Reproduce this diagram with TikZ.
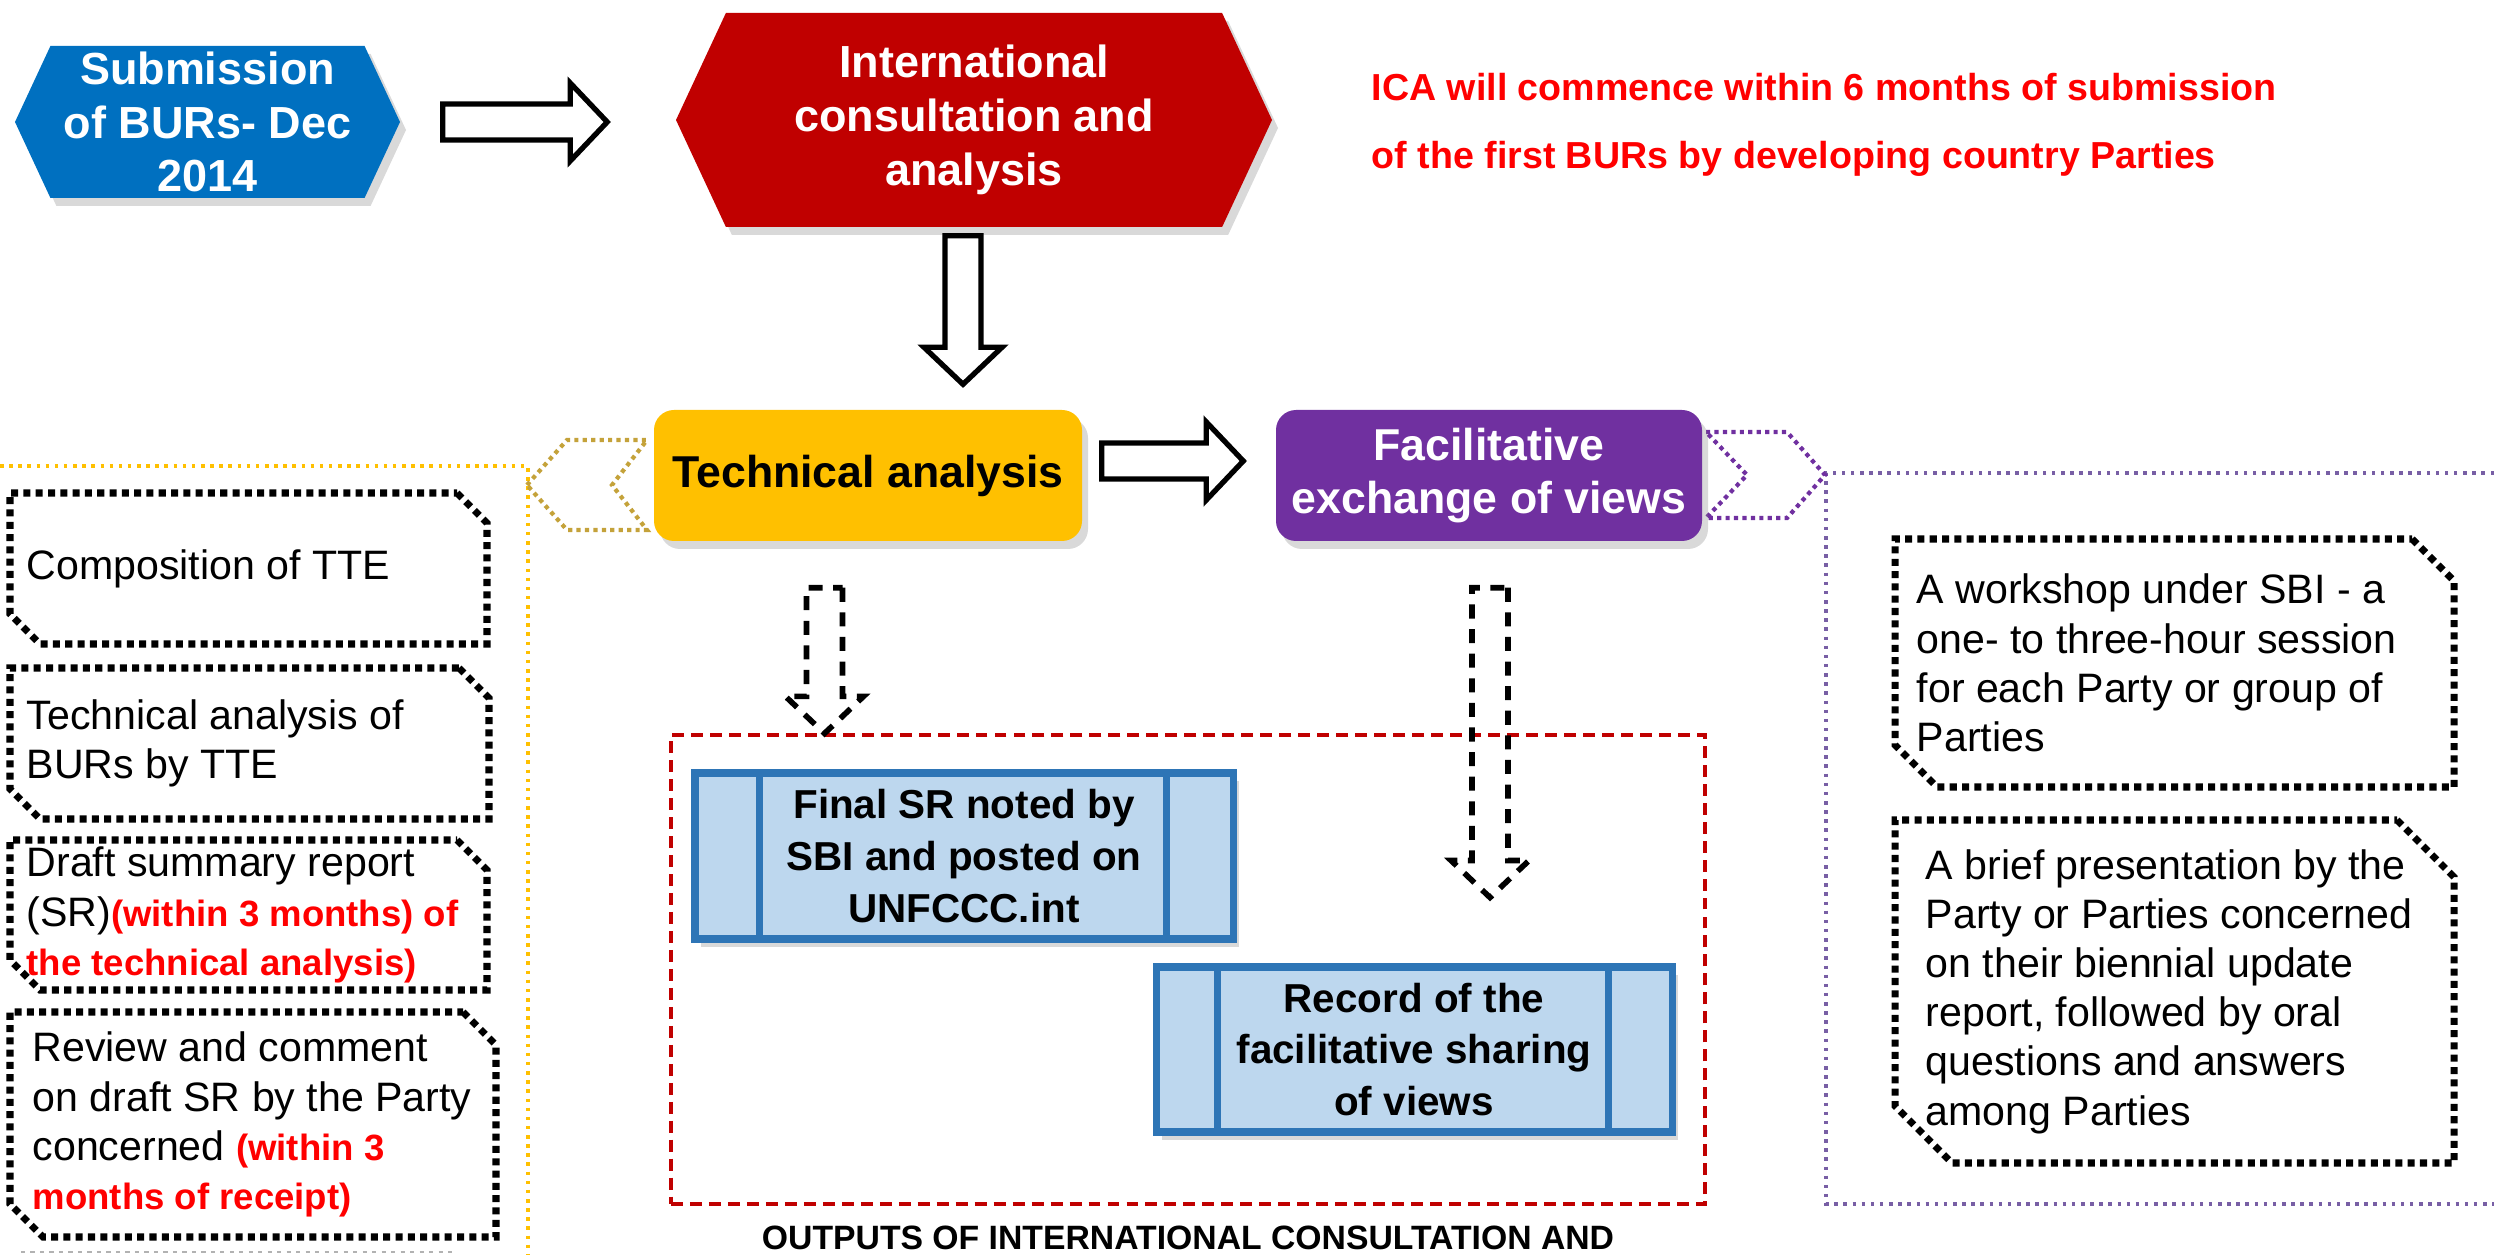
\documentclass[tikz,border=0pt]{standalone}
\usepackage{fontspec}
\setmainfont{Liberation Sans}
\usetikzlibrary{shapes.symbols,shadows,calc,positioning}

\definecolor{bluhex}{RGB}{0,112,192}
\definecolor{rosso}{RGB}{192,0,0}
\definecolor{giallo}{RGB}{255,192,0}
\definecolor{viola}{RGB}{112,48,160}
\definecolor{oro}{RGB}{196,162,58}
\definecolor{violachiaro}{RGB}{120,95,165}
\definecolor{azzurro}{RGB}{189,215,238}
\definecolor{bordoblu}{RGB}{46,117,182}
\definecolor{rossotesto}{RGB}{255,0,0}

% freccia a blocco vuota: #2 inizio, #3 punta
\newcommand{\frecciavuota}[3][]{%
	\coordinate (fv-s) at (#2);
	\coordinate (fv-e) at (#3);
	\coordinate (fv-h) at ($(fv-e)!0.37cm!(fv-s)$);
	\filldraw[fill=white, line width=1.5pt, line join=miter, #1]
	($(fv-s)!0.18cm!90:(fv-e)$) --
	($(fv-h)!0.18cm!90:(fv-e)$) --
	($(fv-h)!0.39cm!90:(fv-e)$) --
	(fv-e) --
	($(fv-h)!0.39cm!-90:(fv-e)$) --
	($(fv-h)!0.18cm!-90:(fv-e)$) --
	($(fv-s)!0.18cm!-90:(fv-e)$) --
	cycle;
}
% bordo a punti con due angoli tagliati: #1 nodo, #2 taglio
\newcommand{\ritaglia}[2]{%
	\draw[black, line width=2pt, dash pattern=on 2pt off 1.5pt]
	($(#1.north east)+(-#2,0)$) --
	($(#1.north east)+(0,-#2)$) --
	(#1.south east) --
	($(#1.south west)+(#2,0)$) --
	($(#1.south west)+(0,#2)$) --
	(#1.north west) --
	cycle;
}
\newcommand{\evid}[1]{{\color{rossotesto}\bfseries\fontsize{10.4}{14}\selectfont #1}}

\begin{document}
\begin{tikzpicture}[
	ombra/.style={drop shadow={shadow xshift=0.6mm, shadow yshift=-0.8mm, opacity=0.3}},
	esagono/.style={signal, signal to=east and west, signal pointer angle=130, inner sep=0pt, text=white, align=center, font=\fontsize{12.8}{15.3}\selectfont\bfseries, ombra},
	scatola/.style={rectangle, rounded corners=2mm, minimum width=4.28cm, minimum height=1.31cm, inner sep=0pt, align=center, font=\fontsize{12.7}{14.9}\selectfont\bfseries, ombra},
	processo/.style={rectangle, fill=azzurro, draw=bordoblu, line width=2pt, inner sep=0pt, align=center, font=\fontsize{11.5}{14.7}\selectfont\bfseries, ombra},
	ritaglio/.style={rectangle, inner sep=0pt, outer sep=0pt},
	testo/.style={inner sep=0pt, align=left, font=\fontsize{11.7}{14}\selectfont}
	]
	\useasboundingbox (0,0) rectangle (24.94,12.55);
	% parentesi e frecce tratteggiate ai lati
	\draw[giallo, line width=1pt, dash pattern=on 1pt off 1.6pt] (0,7.89) -- (5.28,7.89) -- (5.28,0);
	\draw[oro, line width=1.2pt, dash pattern=on 1.2pt off 1.2pt]
	(5.27,7.70) -- (5.67,8.15) -- (6.47,8.15) -- (6.12,7.70) -- (6.47,7.25) -- (5.67,7.25) -- cycle;
	\draw[violachiaro, line width=1pt, dash pattern=on 1pt off 1.6pt] (24.94,7.82) -- (18.26,7.82) -- (18.26,0.51) -- (24.94,0.51);
	\draw[viola, line width=1.2pt, dash pattern=on 1.2pt off 1.2pt]
	(17.06,8.23) -- (17.87,8.23) -- (18.25,7.80) -- (17.87,7.37) -- (17.06,7.37) -- (17.47,7.80) -- cycle;
	% in alto
	\node[esagono, fill=bluhex, minimum width=3.85cm, minimum height=1.52cm] (sub) at (2.075,11.33) {Submission\\of BURs- Dec\\2014};
	\node[esagono, fill=rosso, minimum width=5.96cm, minimum height=2.14cm] (ica) at (9.74,11.35) {International\\consultation and\\analysis};
	\node[anchor=west, inner sep=0pt, align=left, text=rossotesto, font=\fontsize{10.7}{19.3}\selectfont\bfseries] (nota) at (13.71,11.30)
	{ICA will commence within 6 months of submission\\of the first BURs by developing country Parties};
	% le due fasi
	\node[scatola, fill=giallo] (ta) at (8.68,7.795) {Technical analysis};
	\node[scatola, fill=viola, text=white, minimum width=4.26cm] (fev) at (14.89,7.795) {Facilitative\\exchange of views};
	% riquadri a sinistra
	\node[ritaglio, minimum width=4.77cm, minimum height=1.51cm] (tte) at (2.485,6.865) {};
	\node[testo, right=0.16cm of tte.west] (ttetxt) {Composition of TTE};
	\node[ritaglio, minimum width=4.79cm, minimum height=1.51cm] (anl) at (2.495,5.115) {};
	\node[testo, right=0.16cm of anl.west] (anltxt) {Technical analysis of\\BURs by TTE};
	\node[ritaglio, minimum width=4.77cm, minimum height=1.50cm] (bozza) at (2.485,3.40) {};
	\node[testo, right=0.16cm of bozza.west] (bozzatxt) {Draft summary report\\(SR)\evid{(within 3 months) of}\\\evid{the technical analysis)}};
	\node[ritaglio, minimum width=4.86cm, minimum height=2.25cm] (rev) at (2.53,1.305) {};
	\node[testo, right=0.22cm of rev.west] (revtxt) {Review and comment\\on draft SR by the Party\\concerned \evid{(within 3}\\\evid{months of receipt)}};
	\ritaglia{tte}{0.3}
	\ritaglia{anl}{0.3}
	\ritaglia{bozza}{0.3}
	\ritaglia{rev}{0.33}
	\draw[gray!60, line width=0.8pt, dash pattern=on 1.2pt off 1.5pt] (0.21,0.03) -- (4.56,0.03);
	% riquadri a destra
	\node[ritaglio, minimum width=5.59cm, minimum height=2.48cm] (lab) at (21.745,5.92) {};
	\node[testo, right=0.21cm of lab.west] (labtxt) {A workshop under SBI - a\\one- to three-hour session\\for each Party or group of\\Parties};
	\node[ritaglio, minimum width=5.59cm, minimum height=3.43cm] (pres) at (21.745,2.635) {};
	\node[testo, right=0.30cm of pres.west] (prestxt) {A brief presentation by the\\Party or Parties concerned\\on their biennial update\\report, followed by oral\\questions and answers\\among Parties};
	\ritaglia{lab}{0.42}
	\ritaglia{pres}{0.57}
	% uscite
	\node[draw=rosso, line width=0.9pt, dash pattern=on 3.4pt off 2pt, minimum width=10.34cm, minimum height=4.69cm] (uscite) at (11.88,2.855) {};
	\node[processo, minimum width=5.38cm, minimum height=1.66cm] (srf) at (9.64,3.99) {Final SR noted by\\SBI and posted on\\UNFCCC.int};
	\node[processo, minimum width=5.16cm, minimum height=1.65cm] (rec) at (14.14,2.055) {Record of the\\facilitative sharing\\of views};
	\draw[bordoblu, line width=2pt] ([xshift=6.8mm]srf.north west) -- ([xshift=6.8mm]srf.south west);
	\draw[bordoblu, line width=2pt] ([xshift=-7mm]srf.north east) -- ([xshift=-7mm]srf.south east);
	\draw[bordoblu, line width=2pt] ([xshift=6.5mm]rec.north west) -- ([xshift=6.5mm]rec.south west);
	\draw[bordoblu, line width=2pt] ([xshift=-6.7mm]rec.north east) -- ([xshift=-6.7mm]rec.south east);
	\node[below=2mm of uscite, inner sep=0pt, font=\fontsize{9.6}{11}\selectfont\bfseries] (titolo) {OUTPUTS OF INTERNATIONAL CONSULTATION AND};
	% frecce
	\coordinate (f1s) at ([xshift=4.2mm]sub.east);
	\frecciavuota{f1s}{$(ica.west |- f1s)+(-0.68,0)$}
	\coordinate (f2s) at ([xshift=-1.1mm,yshift=-0.8mm]ica.south);
	\frecciavuota{f2s}{$(f2s |- ta.north)+(0,0.25)$}
	\coordinate (f3s) at ([xshift=1.9mm,yshift=1.45mm]ta.east);
	\frecciavuota{f3s}{$(fev.west |- f3s)+(-0.32,0)$}
	\coordinate (f4s) at ([xshift=-4.35mm,yshift=-4.6mm]ta.south);
	\frecciavuota[fill=none, line width=1.6pt, dash pattern=on 4pt off 3pt]{f4s}{f4s |- uscite.north}
	\coordinate (f5s) at ([xshift=0.1mm,yshift=-4.6mm]fev.south);
	\frecciavuota[fill=none, line width=1.6pt, dash pattern=on 4pt off 3pt]{f5s}{$(f5s |- rec.north)+(0,0.66)$}
\end{tikzpicture}
\end{document}
